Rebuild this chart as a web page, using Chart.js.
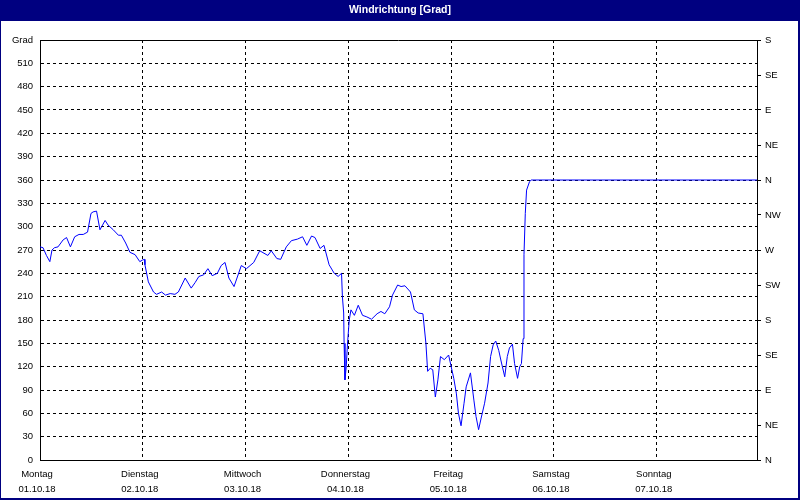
<!DOCTYPE html>
<html>
<head>
<meta charset="utf-8">
<script src="https://cdn.jsdelivr.net/npm/chart.js@4.4.1/dist/chart.umd.min.js"></script>
<style>
  html, body { margin: 0; padding: 0; background: #fff; }
  #windChart { display: block; }
</style>
</head>
<body>
<canvas id="windChart" width="800" height="500"></canvas>
<script>
// hours since Monday 01.10.18 00:00
const hours = [
  0.0, 0.7, 1.5, 2.3, 2.8, 3.4, 4.2, 5.4, 6.2, 7.1, 8.1, 9.1, 10.1, 11.1, 11.9, 12.4, 13.2, 14.0, 14.4, 15.2,
  15.9, 17.1, 18.3, 19.0, 20.0, 21.0, 22.2, 23.3, 23.9, 24.4, 24.5, 25.3, 26.5, 27.2, 28.4, 29.3, 30.4, 31.5, 32.3, 33.9,
  35.3, 36.2, 37.1, 38.2, 39.2, 40.2, 41.4, 42.3, 43.2, 44.1, 45.3, 47.0, 48.2, 49.9, 51.3, 53.2, 54.0, 55.3, 56.2, 57.5,
  58.7, 60.1, 61.3, 62.3, 63.4, 64.2, 65.4, 66.3, 67.5, 68.7, 69.6, 70.4, 70.6, 70.9, 71.0, 71.2, 71.5, 71.8, 72.2, 72.6,
  73.4, 74.3, 75.3, 76.3, 77.4, 78.7, 79.6, 80.5, 81.6, 82.3, 83.5, 84.3, 85.2, 86.5, 87.4, 88.3, 89.4, 90.1, 90.5, 91.1,
  91.7, 92.3, 92.9, 93.5, 94.4, 95.4, 96.0, 96.6, 97.2, 97.7, 98.3, 99.0, 99.5, 100.5, 101.3, 101.8, 102.4, 103.0, 103.8, 104.6,
  105.2, 105.8, 106.4, 107.1, 107.7, 108.5, 109.1, 109.6, 110.3, 110.8, 111.5, 112.0, 112.4, 112.8, 113.0, 113.3, 113.6, 114.3, 114.7, 167.4
];
const degrees = [
  274, 273, 263, 255, 270, 273, 274, 283, 286, 274, 287, 290, 290, 293, 317, 319, 320, 296, 300, 308,
  302, 296, 289, 289, 279, 267, 264, 255, 257, 258, 251, 229, 216, 213, 216, 212, 214, 213, 216, 234,
  221, 228, 236, 238, 246, 237, 240, 250, 254, 234, 223, 250, 246, 254, 269, 263, 269, 259, 258, 274,
  282, 284, 287, 276, 288, 286, 272, 276, 251, 240, 236, 240, 210, 189, 150, 103, 120, 150, 180, 193,
  186, 199, 186, 184, 181, 188, 191, 188, 197, 212, 225, 223, 224, 216, 193, 189, 188, 150, 114, 118,
  116, 81, 103, 133, 129, 135, 120, 105, 86, 60, 44, 73, 94, 112, 77, 56, 39, 54, 73, 99,
  133, 148, 153, 141, 126, 107, 133, 144, 149, 124, 105, 120, 124, 156, 264, 317, 347, 358, 360, 360
];
const dayNames = ['Montag', 'Dienstag', 'Mittwoch', 'Donnerstag', 'Freitag', 'Samstag', 'Sonntag'];
const dates = ['01.10.18', '02.10.18', '03.10.18', '04.10.18', '05.10.18', '06.10.18', '07.10.18'];
const compass = ['N', 'NE', 'E', 'SE', 'S', 'SW', 'W', 'NW', 'N', 'NE', 'E', 'SE', 'S'];

Chart.defaults.font.family = "'Liberation Sans', Arial, sans-serif";
Chart.defaults.font.size = 9.5;
Chart.defaults.color = '#000';

// navy title bar, window frame and the top edge of the plot box
const frame = {
  id: 'frame',
  beforeDraw(chart) {
    const ctx = chart.ctx;
    ctx.save();
    ctx.fillStyle = '#fff';
    ctx.fillRect(0, 0, 800, 500);
    ctx.fillStyle = '#000080';
    ctx.fillRect(0, 0, 800, 21);
    ctx.fillRect(0, 0, 1, 500);
    ctx.fillRect(798, 0, 2, 500);
    ctx.fillRect(0, 498, 800, 2);
    ctx.restore();
  },
  afterDraw(chart) {
    const a = chart.chartArea;
    const ctx = chart.ctx;
    ctx.save();
    ctx.strokeStyle = '#000';
    ctx.lineWidth = 1;
    ctx.beginPath();
    ctx.moveTo(a.left, a.top + 0.5);
    ctx.lineTo(a.right, a.top + 0.5);
    ctx.stroke();
    ctx.restore();
  }
};

const config = {
  type: 'line',
  data: {
    datasets: [{
      data: hours.map((h, i) => ({ x: h, y: degrees[i] })),
      borderColor: '#0000ff',
      borderWidth: 1,
      pointRadius: 0,
      tension: 0,
      fill: false
    }]
  },
  options: {
    responsive: false,
    animation: false,
    devicePixelRatio: 1,
    layout: { padding: 0 },
    plugins: {
      legend: { display: false },
      tooltip: { enabled: false },
      title: {
        display: true,
        text: 'Windrichtung [Grad]',
        color: '#fff',
        font: { size: 10.5, weight: 'bold' },
        padding: { top: 3.5, bottom: 23.9 }
      }
    },
    scales: {
      x: {
        type: 'linear',
        min: 0,
        max: 167.4,
        afterFit: (s) => { s.height = 40; },
        ticks: {
          stepSize: 24,
          autoSkip: false,
          maxRotation: 0,
          padding: 7,
          labelOffset: -3,
          font: { size: 9.5, lineHeight: 1.55 },
          callback: (v) => (v % 24 === 0 && dayNames[v / 24]) ? [dayNames[v / 24], dates[v / 24]] : ''
        },
        grid: { color: '#000', lineWidth: 1, drawTicks: false },
        border: { color: '#000', width: 1, dash: [3, 3] }
      },
      y: {
        position: 'left',
        min: 0,
        max: 540,
        afterFit: (s) => { s.width = 40; },
        ticks: {
          stepSize: 30,
          padding: 7,
          callback: (v) => v === 540 ? 'Grad' : v
        },
        grid: { color: '#000', lineWidth: 1, drawTicks: false },
        border: { color: '#000', width: 1, dash: [3, 3] }
      },
      y2: {
        position: 'right',
        min: 0,
        max: 540,
        afterFit: (s) => { s.width = 43; },
        ticks: {
          stepSize: 45,
          padding: 4,
          callback: (v) => compass[v / 45]
        },
        grid: { drawOnChartArea: false, color: '#000', tickColor: '#000', tickLength: 4 },
        border: { color: '#000', width: 1 }
      }
    }
  },
  plugins: [frame]
};

const windChart = new Chart(document.getElementById('windChart'), config);
</script>
</body>
</html>
